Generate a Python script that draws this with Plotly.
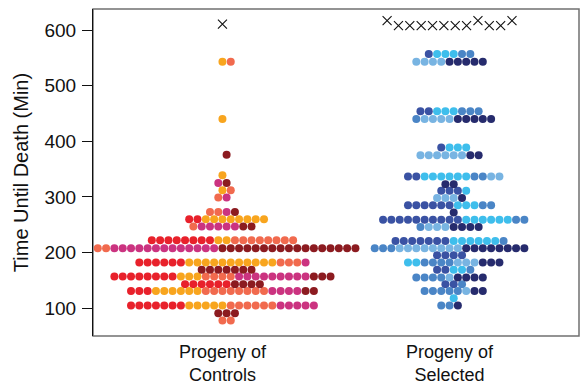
import plotly.graph_objects as go

# ---- data (time bins in minutes, counts per colour group, left-to-right order) ----
ctrl_time    = [78, 91, 105, 131, 143, 157, 169, 182, 208, 222, 247, 260, 273, 299, 312, 325, 339, 376, 440, 543]
ctrl_red     = [0, 0, 7, 3, 6, 8, 0, 6, 0, 8, 0, 2, 0, 0, 0, 0, 0, 0, 0, 0]
ctrl_orange  = [0, 0, 5, 6, 0, 3, 0, 11, 0, 2, 0, 8, 0, 0, 1, 0, 1, 0, 1, 1]
ctrl_coral   = [2, 0, 6, 8, 0, 4, 0, 3, 2, 8, 1, 0, 2, 1, 1, 0, 0, 0, 0, 1]
ctrl_magenta = [0, 0, 5, 4, 0, 9, 0, 1, 13, 0, 5, 0, 1, 1, 0, 1, 0, 0, 0, 0]
ctrl_darkred = [0, 3, 0, 2, 4, 3, 7, 0, 17, 0, 2, 0, 1, 0, 0, 1, 0, 1, 0, 0]
ctrl_censored = [611]

sel_time  = [105, 118, 131, 143, 155, 169, 182, 195, 208, 221, 246, 259, 272, 285, 298, 311, 323, 337, 375, 389, 440, 454, 543, 557]
sel_royal = [0, 0, 0, 2, 0, 2, 0, 4, 0, 7, 0, 10, 0, 6, 0, 3, 0, 2, 0, 1, 0, 2, 0, 1]
sel_sky   = [0, 1, 0, 0, 0, 2, 2, 0, 0, 6, 0, 6, 0, 3, 0, 1, 0, 6, 0, 3, 0, 3, 0, 3]
sel_steel = [2, 0, 5, 1, 4, 1, 4, 0, 3, 1, 1, 2, 0, 2, 0, 0, 0, 2, 0, 0, 1, 3, 0, 2]
sel_light = [0, 0, 1, 0, 1, 0, 3, 0, 8, 0, 3, 0, 0, 0, 3, 0, 0, 2, 6, 0, 4, 0, 4, 0]
sel_navy  = [1, 0, 2, 0, 4, 0, 3, 0, 8, 0, 4, 0, 1, 0, 1, 0, 2, 0, 2, 0, 5, 0, 5, 0]
sel_censored = [617, 608, 608, 608, 608, 608, 608, 608, 617, 608, 608, 617]

categories = ["Progeny of<br>Controls", "Progeny of<br>Selected"]
yticks = [100, 200, 300, 400, 500, 600]

ctrl_colors = ["#E8212B", "#F8A51E", "#F16A4E", "#CB3380", "#8C1B20"]
sel_colors = ["#3A52A3", "#3EBEEC", "#4A85C6", "#78B4E2", "#262B6D"]

# ---- swarm layout (hexagonal binning, rows centred on the group) ----
DX = 0.0366      # horizontal spacing between neighbouring dots (axis units)
BIN0, BIN = 78, 13.0
XDX = 0.050      # spacing of censored markers


def swarm(center, times, groups):
    xs = [[] for _ in groups]
    ys = [[] for _ in groups]
    for i, t in enumerate(times):
        n = sum(g[i] for g in groups)
        if n == 0:
            continue
        start = -(n - 1) / 2
        parity = int(round((t - BIN0) / BIN)) % 2
        if int(round(-(n - 1))) % 2 != parity:
            start += 0.5
        k = 0
        for gi, g in enumerate(groups):
            for _ in range(g[i]):
                xs[gi].append(center + (start + k) * DX)
                ys[gi].append(t)
                k += 1
    return xs, ys


def row(center, vals):
    n = len(vals)
    return [center + (k - (n - 1) / 2) * XDX for k in range(n)], vals


fig = go.Figure()

for center, times, groups, colors in [
    (1, ctrl_time, [ctrl_red, ctrl_orange, ctrl_coral, ctrl_magenta, ctrl_darkred], ctrl_colors),
    (2, sel_time, [sel_royal, sel_sky, sel_steel, sel_light, sel_navy], sel_colors),
]:
    xs, ys = swarm(center, times, groups)
    for x, y, c in zip(xs, ys, colors):
        fig.add_trace(go.Scatter(x=x, y=y, mode="markers",
                                 marker=dict(size=8, color=c, line=dict(width=0)),
                                 showlegend=False, hoverinfo="y"))

for center, vals in [(1, ctrl_censored), (2, sel_censored)]:
    x, y = row(center, vals)
    fig.add_trace(go.Scatter(x=x, y=y, mode="markers",
                             marker=dict(symbol="x-thin", size=9, color="#111",
                                         line=dict(width=1.1, color="#111")),
                             showlegend=False, hoverinfo="y"))

font = "Liberation Sans, Arial, sans-serif"
fig.update_layout(
    width=583, height=385,
    margin=dict(l=93, r=4, t=9, b=49, autoexpand=False),
    paper_bgcolor="white", plot_bgcolor="white",
    font=dict(family=font, size=19, color="#111"),
    xaxis=dict(range=[0.43, 2.57], tickvals=[1, 2], ticktext=categories,
               showgrid=False, zeroline=False, showline=False, ticks="",
               automargin=False, tickfont=dict(size=18), ticklabelstandoff=3),
    yaxis=dict(range=[50, 638], tickvals=yticks, showgrid=False, zeroline=False,
               showline=True, linecolor="#111", linewidth=1.2,
               ticks="outside", ticklen=10, tickcolor="#111", tickwidth=1.2,
               ticklabelstandoff=2, automargin=False, tickfont=dict(size=19),
               title=dict(text="Time Until Death (Min)", font=dict(size=20), standoff=10)),
    shapes=[dict(type="rect", xref="paper", yref="paper", x0=0, y0=0, x1=1, y1=1,
                 line=dict(color="#707070", width=1.5), layer="below")],
)

fig.write_html("out.html", config={"displayModeBar": False},
               post_script="document.body.style.margin='0';document.body.style.padding='0';")
